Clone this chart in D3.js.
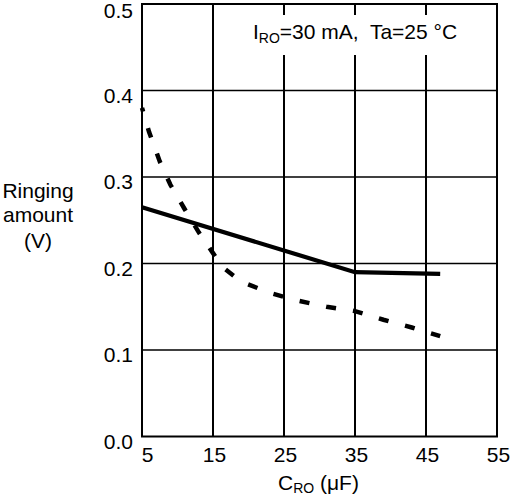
<!DOCTYPE html>
<html><head><meta charset="utf-8">
<script src="https://cdn.jsdelivr.net/npm/d3@7"></script>
<style>body{margin:0;background:#fff}svg{display:block}text{font-family:"Liberation Sans",Arial,sans-serif;fill:#000}</style>
</head><body><svg id="c" width="513" height="502"></svg>
<script>
const xTicks = [5, 15, 25, 35, 45, 55];
const yTicks = [0.0, 0.1, 0.2, 0.3, 0.4, 0.5];
const solidX = [5, 35, 47];
const solidY = [0.265, 0.190, 0.188];
const dashX = [5, 6, 7.5, 9, 11, 13, 15, 16.3, 19, 23, 27, 31, 35, 39, 43, 47];
const dashY = [0.380, 0.352, 0.318, 0.291, 0.263, 0.236, 0.212, 0.196, 0.179, 0.166, 0.157, 0.150, 0.145, 0.135, 0.126, 0.116];

const FS = 21;
const svg = d3.select("#c");
const L = 142, R = 497, T = 4, B = 436.5;
const x = d3.scaleLinear().domain([5, 55]).range([L, R]);
const y = d3.scaleLinear().domain([0, 0.5]).range([B, T]);

// grid
svg.append("g").selectAll("line").data(xTicks.slice(1, -1)).join("line")
  .attr("x1", d => x(d)).attr("x2", d => x(d)).attr("y1", T).attr("y2", B)
  .attr("stroke", "#000").attr("stroke-width", 2);
svg.append("g").selectAll("line").data(yTicks.slice(1, -1)).join("line")
  .attr("y1", d => y(d)).attr("y2", d => y(d)).attr("x1", L).attr("x2", R)
  .attr("stroke", "#000").attr("stroke-width", 1.7);

// annotation background box
svg.append("rect").attr("x", 249).attr("y", 15).attr("width", 220).attr("height", 40).attr("fill", "#fff");

svg.append("rect").attr("x", L).attr("y", T).attr("width", R - L).attr("height", B - T)
  .attr("fill", "none").attr("stroke", "#000").attr("stroke-width", 2);

// axes labels
const xAxis = d3.axisBottom(x).tickValues(xTicks).tickSize(0).tickPadding(0).tickFormat(d3.format("d"));
const gx = svg.append("g").attr("transform", `translate(0,${B})`).call(xAxis);
gx.select(".domain").remove();
gx.selectAll("text").attr("font-size", FS).attr("font-family", "Liberation Sans, Arial, sans-serif")
  .attr("dy", null).attr("y", 25).attr("dx", d => d === 5 ? 5 : 1);

const yAxis = d3.axisLeft(y).tickValues(yTicks).tickSize(0).tickPadding(9).tickFormat(d3.format(".1f"));
const gy = svg.append("g").attr("transform", `translate(${L},0)`).call(yAxis);
gy.select(".domain").remove();
gy.selectAll("text").attr("font-size", FS).attr("font-family", "Liberation Sans, Arial, sans-serif")
  .attr("dy", null).attr("y", d => d === 0.5 ? 13.5 : 11.5);

// data lines
const line = d3.line().x(d => x(d[0])).y(d => y(d[1]));
svg.append("path").datum(solidX.map((v, i) => [v, solidY[i]])).attr("d", line)
  .attr("fill", "none").attr("stroke", "#000").attr("stroke-width", 4.2);
svg.append("path").datum(dashX.map((v, i) => [v, dashY[i]])).attr("d", line)
  .attr("fill", "none").attr("stroke", "#000").attr("stroke-width", 4.5)
  .attr("stroke-dasharray", "10,17.1").attr("stroke-dashoffset", 6);

// annotation
const ann = svg.append("text").attr("x", 253).attr("y", 39).attr("font-size", FS)
  .attr("xml:space", "preserve").style("white-space", "pre");
ann.append("tspan").text("I");
ann.append("tspan").attr("font-size", 14).attr("dy", 4).text("RO");
ann.append("tspan").attr("dy", -4).text("=30 mA,  Ta=25 °C");

// x title
const xt = svg.append("text").attr("x", 278).attr("y", 490).attr("font-size", FS);
xt.append("tspan").text("C");
xt.append("tspan").attr("font-size", 14).attr("dy", 3).text("RO");
xt.append("tspan").attr("dy", -3).text(" (μF)");

// y title
const yt = svg.append("text").attr("text-anchor", "middle").attr("font-size", FS);
[["Ringing", 198], ["amount", 222], ["(V)", 248]].forEach(([t, yy]) =>
  yt.append("tspan").attr("x", 38).attr("y", yy).text(t));
</script></body></html>
